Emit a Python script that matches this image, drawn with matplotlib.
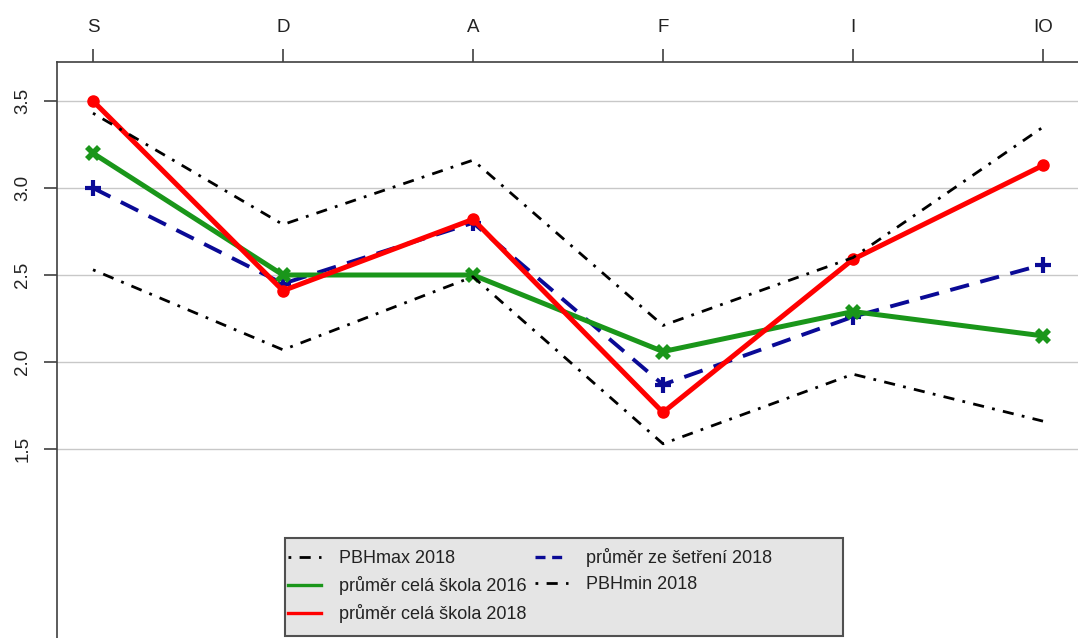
import matplotlib.pyplot as plt
from matplotlib.lines import Line2D
from matplotlib.patches import Rectangle

# --- data ---
kategorie = ['S', 'D', 'A', 'F', 'I', 'IO']
pbh_max_2018 = [3.43, 2.79, 3.16, 2.21, 2.60, 3.35]
pbh_min_2018 = [2.53, 2.07, 2.49, 1.53, 1.93, 1.66]
setreni_2018 = [3.00, 2.45, 2.80, 1.87, 2.26, 2.56]
skola_2016 = [3.20, 2.50, 2.50, 2.06, 2.29, 2.15]
skola_2018 = [3.50, 2.41, 2.82, 1.71, 2.59, 3.13]
y_ticks = [1.5, 2.0, 2.5, 3.0, 3.5]

plt.rcParams['font.family'] = ['Liberation Sans', 'DejaVu Sans']

W, H = 1078, 638
fig = plt.figure(figsize=(W / 100, H / 100), dpi=100)

# axes box runs past the right and bottom edge (cropped like the original)
left, top, right, bottom = 57, 62, 1100, 660
ax = fig.add_axes([left / W, 1 - bottom / H, (right - left) / W, (bottom - top) / H])

x = list(range(len(kategorie)))
px_per_x = 190.0
px_per_y = 174.0
ax.set_xlim(0 - (93 - left) / px_per_x, 0 + (right - 93) / px_per_x)
ax.set_ylim(3.5 - (bottom - 101) / px_per_y, 3.5 + (101 - top) / px_per_y)

# gridlines
for yv in y_ticks:
    ax.axhline(yv, color='#c8c8c8', lw=1.0, zorder=0)

dotdash = (0, (1, 3, 4, 3))

ax.plot(x, setreni_2018, color='#0a0a96', lw=2.8, linestyle=(0, (5, 3)),
        marker='+', markersize=12, markeredgewidth=3, zorder=3)
ax.plot(x, skola_2016, color='#1a961a', lw=3.6, marker='X', markersize=11,
        markeredgewidth=0, zorder=4)
ax.plot(x, skola_2018, color='#ff0000', lw=3.6, marker='o', markersize=8, zorder=5)
ax.plot(x, pbh_max_2018, color='black', lw=2.0, linestyle=dotdash, zorder=6)
ax.plot(x, pbh_min_2018, color='black', lw=2.0, linestyle=dotdash, zorder=6)

# axes styling (R base look)
for s in ['right', 'bottom']:
    ax.spines[s].set_visible(False)
for s in ['left', 'top']:
    ax.spines[s].set_color('#404040')
    ax.spines[s].set_linewidth(1.2)

ax.xaxis.tick_top()
ax.set_xticks(x)
ax.set_xticklabels(kategorie)
ax.set_yticks(y_ticks)
ax.set_yticklabels([f'{v:.1f}' for v in y_ticks], rotation=90, va='center')
ax.tick_params(axis='both', direction='out', length=9.5, width=1.2, color='#404040',
               labelsize=13.5, labelcolor='#222222', pad=9)

# legend box (drawn separately so it can be as wide as the R one)
fig.patches.append(Rectangle((285 / W, 1 - 636 / H), (843 - 285) / W, (636 - 538) / H,
                             transform=fig.transFigure, facecolor='#e5e5e5',
                             edgecolor='#505050', lw=1.5, zorder=10))
handles = [
    Line2D([], [], color='black', lw=2.0, linestyle=dotdash),
    Line2D([], [], color='#1a961a', lw=2.4),
    Line2D([], [], color='#ff0000', lw=2.4),
    Line2D([], [], color='#0a0a96', lw=2.4, linestyle=(0, (3, 2))),
    Line2D([], [], color='black', lw=2.0, linestyle=dotdash),
]
labels = ['PBHmax 2018', 'průměr celá škola 2016', 'průměr celá škola 2018',
          'průměr ze šetření 2018', 'PBHmin 2018']
leg = fig.legend(handles, labels, ncol=2, loc='upper left',
                 bbox_to_anchor=(288 / W, 1 - 548 / H), bbox_transform=fig.transFigure,
                 borderaxespad=0, frameon=False, fontsize=13, handlelength=1.8,
                 handletextpad=1.0, columnspacing=0.5, labelspacing=0.5,
                 borderpad=0)
leg.set_zorder(11)
for t in leg.get_texts():
    t.set_color('#222222')

fig.savefig('out.png', dpi=100)
